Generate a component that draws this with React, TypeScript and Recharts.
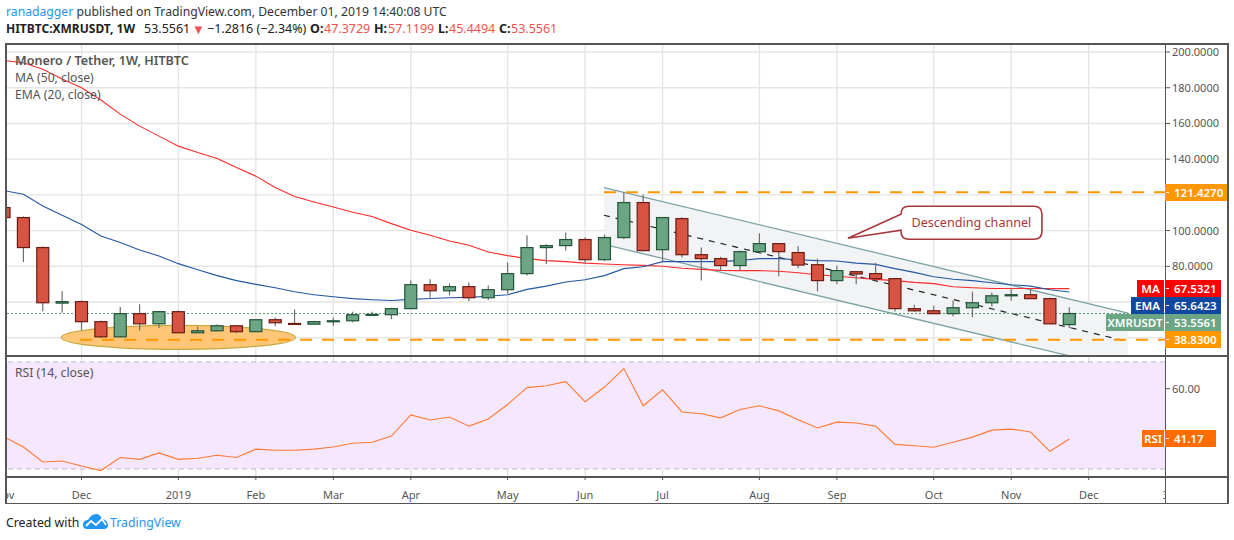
import React from "react"
import {
  ComposedChart, Bar, Line, Area, XAxis, YAxis, CartesianGrid,
  ReferenceLine, ReferenceArea, ReferenceDot,
} from "recharts"

const FONT = "'Noto Sans', sans-serif"

// weekly candles, oldest first
const opens = [112.9, 107.3, 90.5, 59.4, 60.2, 49.0, 40.5, 53.5, 47.8, 54.6, 42.8, 43.9, 46.7, 43.4, 50.1, 48.0, 47.6, 49.0, 49.5, 52.7, 52.9, 56.3, 69.7, 66.3, 68.6, 62.4, 66.9, 75.9, 90.5, 91.6, 95.0, 83.7, 96.1, 115.7, 89.3, 106.7, 86.5, 84.3, 80.4, 88.2, 92.7, 87.7, 80.9, 72.0, 77.0, 75.9, 73.1, 56.3, 55.1, 53.5, 56.8, 59.6, 63.5, 64.1, 61.9, 47.37]
const closes = [107.3, 90.5, 59.6, 60.2, 49.0, 40.5, 53.5, 47.8, 54.6, 42.8, 43.9, 46.7, 43.4, 50.1, 48.4, 47.6, 49.0, 49.5, 52.9, 53.1, 56.3, 69.7, 66.3, 68.6, 62.4, 66.9, 75.9, 90.5, 91.6, 95.0, 83.7, 96.1, 115.7, 88.8, 107.3, 86.5, 84.3, 80.4, 88.2, 92.7, 88.2, 80.7, 72.0, 77.6, 75.7, 73.1, 56.3, 55.1, 53.5, 56.8, 59.6, 63.5, 64.1, 61.9, 47.8, 53.56]
const highs = [113, 107.9, 91.2, 66.0, 60.9, 49.7, 57.2, 58.7, 55.0, 55.3, 46.3, 47.4, 46.9, 50.1, 51.4, 55.9, 49.5, 51.2, 54.6, 54.6, 56.8, 72.1, 72.7, 70.4, 71.0, 69.3, 82.2, 97.4, 92.3, 99.0, 96.1, 97.8, 121.5, 120.2, 107.6, 107.5, 90.5, 85.4, 88.8, 98.5, 92.7, 91.2, 84.3, 80.4, 77.0, 82.0, 73.1, 58.5, 58.1, 60.9, 65.8, 65.4, 68.0, 67.1, 62.6, 57.12]
const lows = [107.3, 82.4, 54.9, 54.0, 44.1, 39.8, 40.3, 44.1, 45.4, 42.6, 42.6, 43.7, 42.6, 43.2, 46.5, 47.5, 47.4, 46.7, 48.7, 52.3, 50.4, 56.3, 62.6, 63.7, 60.5, 61.1, 64.8, 74.9, 81.3, 88.9, 82.0, 82.8, 95.1, 88.4, 82.8, 85.0, 72.1, 77.6, 77.6, 87.7, 74.4, 78.9, 66.0, 69.9, 69.9, 71.4, 54.7, 54.6, 53.3, 52.1, 51.5, 57.5, 60.7, 61.7, 47.8, 45.45]
const ma50 = [195.2, 194.0, 190.3, 184.9, 180.0, 173.1, 165.2, 158.5, 152.9, 147.3, 143.7, 140.4, 135.3, 130.5, 124.1, 119.1, 116.0, 113.2, 110.3, 107.9, 103.9, 100.2, 97.4, 94.2, 91.8, 88.0, 86.0, 84.3, 83.2, 82.6, 81.8, 81.3, 80.9, 80.5, 80.0, 78.9, 78.3, 77.7, 77.6, 77.6, 77.2, 76.4, 75.3, 74.4, 73.6, 72.7, 72.0, 71.0, 70.3, 68.6, 68.0, 67.6, 67.6, 67.6, 67.5, 67.53]
const ema20 = [122.4, 120.4, 113.8, 108.6, 103.4, 97.0, 93.3, 89.1, 85.8, 81.5, 78.1, 74.8, 72.0, 69.9, 68.0, 65.8, 64.1, 63.0, 61.9, 61.3, 60.9, 61.5, 62.0, 62.4, 62.6, 63.2, 64.1, 67.1, 68.9, 71.2, 72.5, 74.8, 78.7, 79.8, 82.6, 82.6, 82.6, 82.6, 83.3, 84.3, 84.3, 83.7, 83.2, 83.0, 81.8, 81.1, 78.7, 76.6, 74.2, 72.8, 72.0, 70.8, 69.7, 68.9, 66.9, 65.64]
const rsi = [42.0, 38.2, 32.6, 33.0, 31.1, 29.4, 34.3, 33.6, 36.0, 33.6, 34.0, 35.1, 34.3, 37.4, 37.0, 37.0, 37.4, 38.2, 39.6, 40.0, 42.3, 50.2, 48.3, 49.4, 46.0, 48.7, 54.1, 60.4, 61.1, 62.6, 55.1, 60.6, 67.5, 53.6, 59.6, 51.3, 50.6, 49.1, 52.2, 53.6, 51.7, 48.4, 45.3, 47.5, 47.2, 46.0, 39.2, 38.7, 38.1, 40.0, 41.9, 44.5, 44.9, 43.8, 36.6, 41.17]

// x axis is measured in weeks since the first candle
const monthTicks = [0, 4, 9, 13, 17, 21, 26, 30, 34, 39, 43, 48, 52, 56, 59.94]
const monthLabels = ["Nov", "Dec", "2019", "Feb", "Mar", "Apr", "May", "Jun", "Jul", "Aug", "Sep", "Oct", "Nov", "Dec", "30"]
const gridWeeks = [4, 9, 13, 17, 21, 26, 30, 34, 39, 43, 48, 52, 56]
const priceTicks = [200, 180, 160, 140, 120, 100, 80, 60, 40]
const priceUnderTags = [120, 60, 40] // these labels sit behind the price tags in the original
const rsiTicks = [60, 40]

const channelWeeks = [30.97, 58.03]
const channelUpper = [124.1, 53.8]
const channelLower = [92.3, 22.0]
const channelMid = [108.6, 38.5]
const midWeeks = [30.97, 57.77]

const resistance = 121.427
const support = 38.83
const lastPrice = 53.5561

const rows = closes.map((c, i) => ({
  k: i, open: opens[i], close: c, high: highs[i], low: lows[i], ma: ma50[i], ema: ema20[i], rsi: rsi[i],
}))
const channelRows = channelWeeks.map((k, i) => ({ k, band: [channelLower[i], channelUpper[i]] }))
const supportRows = [{ k: 3.92, level: support }, { k: 59.94, level: support }]
const resistanceRows = [{ k: 30.97, level: resistance }, { k: 59.94, level: resistance }]

const WEEK_DOMAIN = [0.1, 59.94]
const RED = "#ef5350"

function Candle(props: any) {
  const { x, y, width, height, payload } = props
  const perUnit = height / (payload.high - payload.low)
  const top = y + (payload.high - Math.max(payload.open, payload.close)) * perUnit
  const bottom = y + (payload.high - Math.min(payload.open, payload.close)) * perUnit
  const up = payload.close >= payload.open
  const mid = x + width / 2
  return (
    <g>
      <line x1={mid} x2={mid} y1={y} y2={y + height} stroke="#6f6f6f" strokeWidth={1.2} />
      <rect x={mid - 6} y={top} width={12} height={Math.max(bottom - top, 1)}
        fill={up ? "#6ba583" : "#d75442"} stroke={up ? "#225437" : "#6b1b12"} strokeWidth={1.2} />
    </g>
  )
}

function Ellipse(props: any) {
  return <ellipse cx={props.cx} cy={props.cy} rx={117} ry={12} fill="#ffc678" stroke="#c8a83c" strokeWidth={1.2} />
}

// tip of the speech bubble sits on the dot, box is to the right of it
function Callout(props: any) {
  const { cx, cy } = props
  const l = cx + 53, r = cx + 194, t = cy - 32, b = cy + 1
  const d = `M${cx} ${cy} L${l} ${cy - 24} L${l} ${t + 8} Q${l} ${t} ${l + 8} ${t} L${r - 8} ${t} Q${r} ${t} ${r} ${t + 8}
    L${r} ${b - 8} Q${r} ${b} ${r - 8} ${b} L${l + 8} ${b} Q${l} ${b} ${l} ${b - 8} L${l} ${cy - 8} Z`
  return (
    <g>
      <path d={d} fill="#fff" stroke="#a5373d" strokeWidth={1.6} />
      <text x={(l + r) / 2} y={cy - 11} textAnchor="middle" fontSize={12.6} fontFamily={FONT} fill="#a5373d">Descending channel</text>
    </g>
  )
}

function MonthTick(props: any) {
  const { x, y, payload } = props
  const label = monthLabels[monthTicks.indexOf(payload.value)]
  const shown = payload.value > 0 && payload.value < 59
  return (
    <g>
      {shown && <line x1={x} x2={x} y1={120} y2={124} stroke="#555" />}
      <text x={payload.value > 59 ? x + 4 : x} y={y + 14} textAnchor="middle" fontSize={11} fontFamily={FONT} fill="#555" clipPath="url(#axisClip)">{label}</text>
    </g>
  )
}

function Tag(props: { left: number; top: number; width: number; color: string; text: string; value?: boolean }) {
  return (
    <div style={{
      position: "absolute", left: props.left, top: props.top, width: props.width, height: 17, lineHeight: "17px",
      background: props.color, color: "#fff", fontSize: 11.5, fontWeight: 600, whiteSpace: "nowrap",
      textAlign: props.value ? "left" : "center", paddingLeft: props.value ? 9 : 0, boxSizing: "border-box",
    }}>
      {props.value && <span style={{ position: "absolute", left: 1, top: 8, width: 3, height: 1, background: "#fff" }} />}
      {props.text}
    </div>
  )
}

function Box(props: { left: number; top: number; width: number; height: number }) {
  return <div style={{ position: "absolute", background: "#555", ...props }} />
}

function HeadText(props: { left: number; color?: string; bold?: boolean; text: string; size?: number }) {
  return (
    <span style={{
      position: "absolute", left: props.left, top: 20, fontSize: props.size || 12.5, whiteSpace: "nowrap",
      color: props.color || "#222", fontWeight: props.bold ? 700 : 400,
    }}>{props.text}</span>
  )
}

export default function App() {
  return (
    <div style={{ position: "absolute", left: 0, top: 0, width: 1234, height: 540, background: "#fff", overflow: "hidden", fontFamily: FONT }}>
      <div style={{ position: "absolute", left: 6, top: 3, fontSize: 12.2, color: "#333", whiteSpace: "nowrap" }}>
        <span style={{ color: "#2196f3" }}>ranadagger</span> published on TradingView.com, December 01, 2019 14:40:08 UTC
      </div>
      <HeadText left={6} bold size={12} text="HITBTC:XMRUSDT, 1W" />
      <HeadText left={144} text="53.5561" />
      <HeadText left={192} color={RED} size={13} text="▼" />
      <HeadText left={207} text="−1.2816 (−2.34%)" />
      <HeadText left={310} bold text="O:" />
      <HeadText left={324} color={RED} text="47.3729" />
      <HeadText left={374} bold text="H:" />
      <HeadText left={388} color={RED} text="57.1199" />
      <HeadText left={438} bold text="L:" />
      <HeadText left={449} color={RED} text="45.4494" />
      <HeadText left={499} bold text="C:" />
      <HeadText left={511} color={RED} text="53.5561" />

      <div style={{ position: "absolute", left: 0, top: 0 }}>
        <ComposedChart width={1234} height={356} data={rows} margin={{ top: 44, right: 7, bottom: 0, left: 6 }}>
          <CartesianGrid stroke="#e5e5e5" strokeWidth={1.4} verticalValues={gridWeeks} />
          <XAxis dataKey="k" type="number" domain={WEEK_DOMAIN} allowDataOverflow hide />
          <YAxis orientation="right" width={62} domain={[29.78, 204.49]} allowDataOverflow ticks={priceTicks} interval={0}
            tickFormatter={(v: number) => (priceUnderTags.includes(v) ? "" : v.toFixed(4))} axisLine={false} tickSize={5} tickLine={{ stroke: "#555" }}
            tick={{ fontSize: 11, fontFamily: FONT, fill: "#555" }} />
          <Area zIndex={10} data={channelRows} dataKey="band" stroke="none" fill="#f1f3f5" fillOpacity={1} dot={false} activeDot={false} isAnimationActive={false} />
          <ReferenceDot zIndex={20} x={9.0} y={40.2} ifOverflow="hidden" shape={Ellipse} />
          <ReferenceLine zIndex={30} ifOverflow="hidden" stroke="#7fa3a5" strokeWidth={1.3}
            segment={[{ x: channelWeeks[0], y: channelUpper[0] }, { x: channelWeeks[1], y: channelUpper[1] }]} />
          <ReferenceLine zIndex={30} ifOverflow="hidden" stroke="#7fa3a5" strokeWidth={1.3}
            segment={[{ x: channelWeeks[0], y: channelLower[0] }, { x: channelWeeks[1], y: channelLower[1] }]} />
          <ReferenceLine zIndex={30} ifOverflow="hidden" stroke="#222" strokeWidth={1.2} strokeDasharray="6 6"
            segment={[{ x: midWeeks[0], y: channelMid[0] }, { x: midWeeks[1], y: channelMid[1] }]} />
          <ReferenceLine zIndex={30} y={lastPrice} stroke="#4f9a72" strokeDasharray="2 2" />
          <Line zIndex={40} data={supportRows} dataKey="level" stroke="#ff9800" strokeWidth={2} strokeDasharray="12 10" dot={false} activeDot={false} isAnimationActive={false} />
          <Line zIndex={40} data={resistanceRows} dataKey="level" stroke="#ff9800" strokeWidth={2} strokeDasharray="12 10" dot={false} activeDot={false} isAnimationActive={false} />
          <Line zIndex={50} dataKey="ma" stroke="#ff2a2a" strokeWidth={1.1} dot={false} activeDot={false} isAnimationActive={false} />
          <Line zIndex={50} dataKey="ema" stroke="#2457a6" strokeWidth={1.1} dot={false} activeDot={false} isAnimationActive={false} />
          <Bar zIndex={300} dataKey={(r: any) => [r.low, r.high]} barSize={12} shape={Candle} isAnimationActive={false} />
          <ReferenceDot x={43.57} y={95.7} ifOverflow="hidden" shape={Callout} />
        </ComposedChart>
      </div>

      <div style={{ position: "absolute", left: 0, top: 356 }}>
        <ComposedChart width={1234} height={148} data={rows} margin={{ top: 0, right: 7, bottom: 0, left: 6 }}>
          <defs>
            <clipPath id="axisClip"><rect x={6} y={0} width={1159} height={148} /></clipPath>
          </defs>
          <ReferenceArea y1={30} y2={70} fill="#f5e7fd" fillOpacity={1} stroke="none" />
          <CartesianGrid stroke="#e3d5ea" strokeWidth={1.2} verticalValues={gridWeeks} />
          <XAxis dataKey="k" type="number" domain={WEEK_DOMAIN} allowDataOverflow height={27} ticks={monthTicks} interval={0}
            axisLine={false} tickLine={false} tick={MonthTick} />
          <YAxis orientation="right" width={62} domain={[27, 72.2]} allowDataOverflow ticks={rsiTicks} interval={0}
            tickFormatter={(v: number) => (v === 40 ? "" : v.toFixed(2))} axisLine={false} tickSize={5} tickLine={{ stroke: "#555" }}
            tick={{ fontSize: 11, fontFamily: FONT, fill: "#555" }} />
          <ReferenceLine y={70} stroke="#c3b4cc" strokeDasharray="5 4" />
          <ReferenceLine y={30} stroke="#c3b4cc" strokeDasharray="5 4" />
          <Line dataKey="rsi" stroke="#ff7a33" strokeWidth={1.1} dot={false} activeDot={false} isAnimationActive={false} />
        </ComposedChart>
      </div>

      <div style={{ position: "absolute", left: 15, top: 52, fontSize: 12.6, color: "#555", fontWeight: 600 }}>Monero / Tether, 1W, HITBTC</div>
      <div style={{ position: "absolute", left: 15, top: 69, fontSize: 12.2, color: "#555" }}>MA (50, close)</div>
      <div style={{ position: "absolute", left: 15, top: 86, fontSize: 12.2, color: "#555" }}>EMA (20, close)</div>
      <div style={{ position: "absolute", left: 15, top: 364, fontSize: 12.2, color: "#555" }}>RSI (14, close)</div>

      <Box left={5} top={43} width={1223} height={1.5} />
      <Box left={5} top={355} width={1223} height={1.5} />
      <Box left={5} top={476} width={1223} height={1.5} />
      <Box left={5} top={502.5} width={1223} height={1.5} />
      <Box left={5} top={43} width={1.5} height={461} />
      <Box left={1164.5} top={43} width={1.5} height={461} />
      <Box left={1227} top={43} width={1.5} height={461} />

      <Tag left={1165} top={184} width={62} color="#ff9800" text="121.4270" value />
      <Tag left={1137} top={280} width={27} color="#ff0000" text="MA" />
      <Tag left={1165} top={280} width={56} color="#ff0000" text="67.5321" value />
      <Tag left={1131} top={297} width={33} color="#0f48a0" text="EMA" />
      <Tag left={1165} top={297} width={56} color="#0f48a0" text="65.6423" value />
      <Tag left={1106} top={314} width={58} color="#6ba583" text="XMRUSDT" />
      <Tag left={1165} top={314} width={56} color="#6ba583" text="53.5561" value />
      <Tag left={1165} top={331} width={56} color="#ff9800" text="38.8300" value />
      <Tag left={1142} top={430} width={22} color="#ff6d00" text="RSI" />
      <Tag left={1165} top={430} width={51} color="#ff6d00" text="41.17" value />

      <div style={{ position: "absolute", left: 6, top: 514, fontSize: 12.3, color: "#222" }}>Created with</div>
      <svg style={{ position: "absolute", left: 82, top: 513 }} width={27} height={17} viewBox="0 0 27 17">
        <path d="M1 12 C1 8 4 7 6 7 C8 3 11 1 14 1 C17 1 19 3 20 6 C23 6 26 9 26 12 C26 15 24 16 22 16 L5 16 C2 16 1 14 1 12 Z" fill="#2196f3" />
        <path d="M4 13 L9 8 L14 12 L20 6 L24 12" fill="none" stroke="#fff" strokeWidth={1.8} />
      </svg>
      <div style={{ position: "absolute", left: 110, top: 514, fontSize: 12.3, color: "#2196f3" }}>TradingView</div>
    </div>
  )
}
